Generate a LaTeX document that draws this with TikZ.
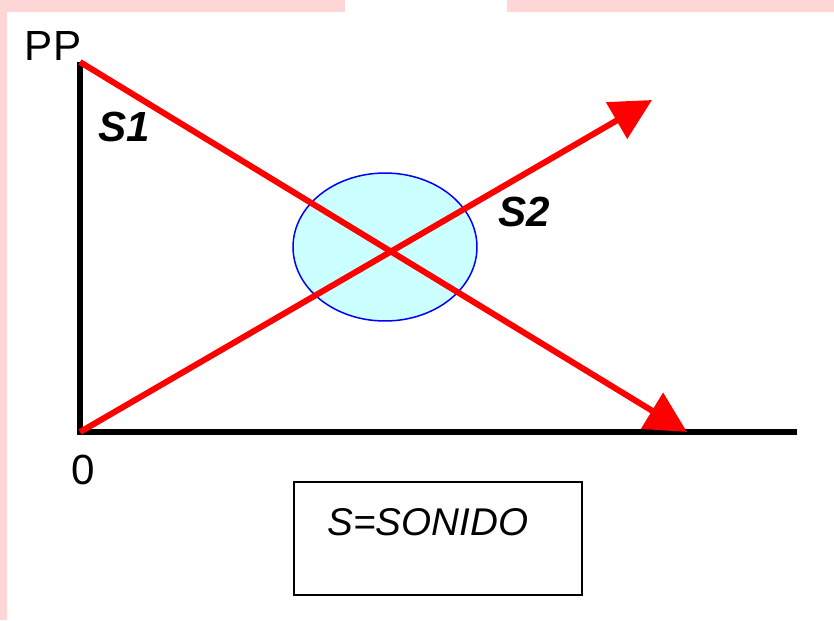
\documentclass[tikz,border=0pt]{standalone}
\usepackage{fontspec}
\setmainfont{Liberation Sans}
\usetikzlibrary{arrows.meta,positioning}
\definecolor{pinkedge}{RGB}{255,214,214}
\definecolor{soundred}{RGB}{255,0,0}
\definecolor{zonefill}{RGB}{204,255,255}
\definecolor{zoneline}{RGB}{0,0,255}

\begin{document}
\begin{tikzpicture}[x=0.02cm,y=-0.02cm,every node/.style={inner sep=0pt,font=\fontsize{24}{28}\selectfont}]
\useasboundingbox (0,0) rectangle (834,620);
\fill[pinkedge] (0,0) rectangle (345,12);
\fill[pinkedge] (507,0) rectangle (834,12);
\fill[pinkedge] (0,0) rectangle (7,620);
\coordinate (o) at (80,432);
\coordinate (ytop) at (80,62);
\coordinate (xend) at (797,432);
\coordinate (s1tip) at (687,432);
\coordinate (s2tip) at (652,100);
\fill[zonefill,draw=zoneline,line width=.03cm] (385,247) ellipse [x radius=1.84cm,y radius=1.48cm];
\draw[line width=.12cm] (ytop)--(o)--(xend);
\draw[soundred,line width=.12cm,-{Triangle[length=.82cm,width=.82cm]}] (ytop)--(s1tip);
\draw[soundred,line width=.12cm,-{Triangle[length=.82cm,width=.82cm]}] (o)--(s2tip);
\node (pp) at (53,46) {PP};
\node (s1) at (124,127) {\bfseries\itshape S1};
\node (s2) at (524,212) {\bfseries\itshape S2};
\node (zero) at (83,470) {0};
\draw[line width=.04cm] (294,482) rectangle (582,595);
\node[font=\fontsize{22}{26}\selectfont] (key) at (428,522) {\itshape S=SONIDO};
\end{tikzpicture}
\end{document}
